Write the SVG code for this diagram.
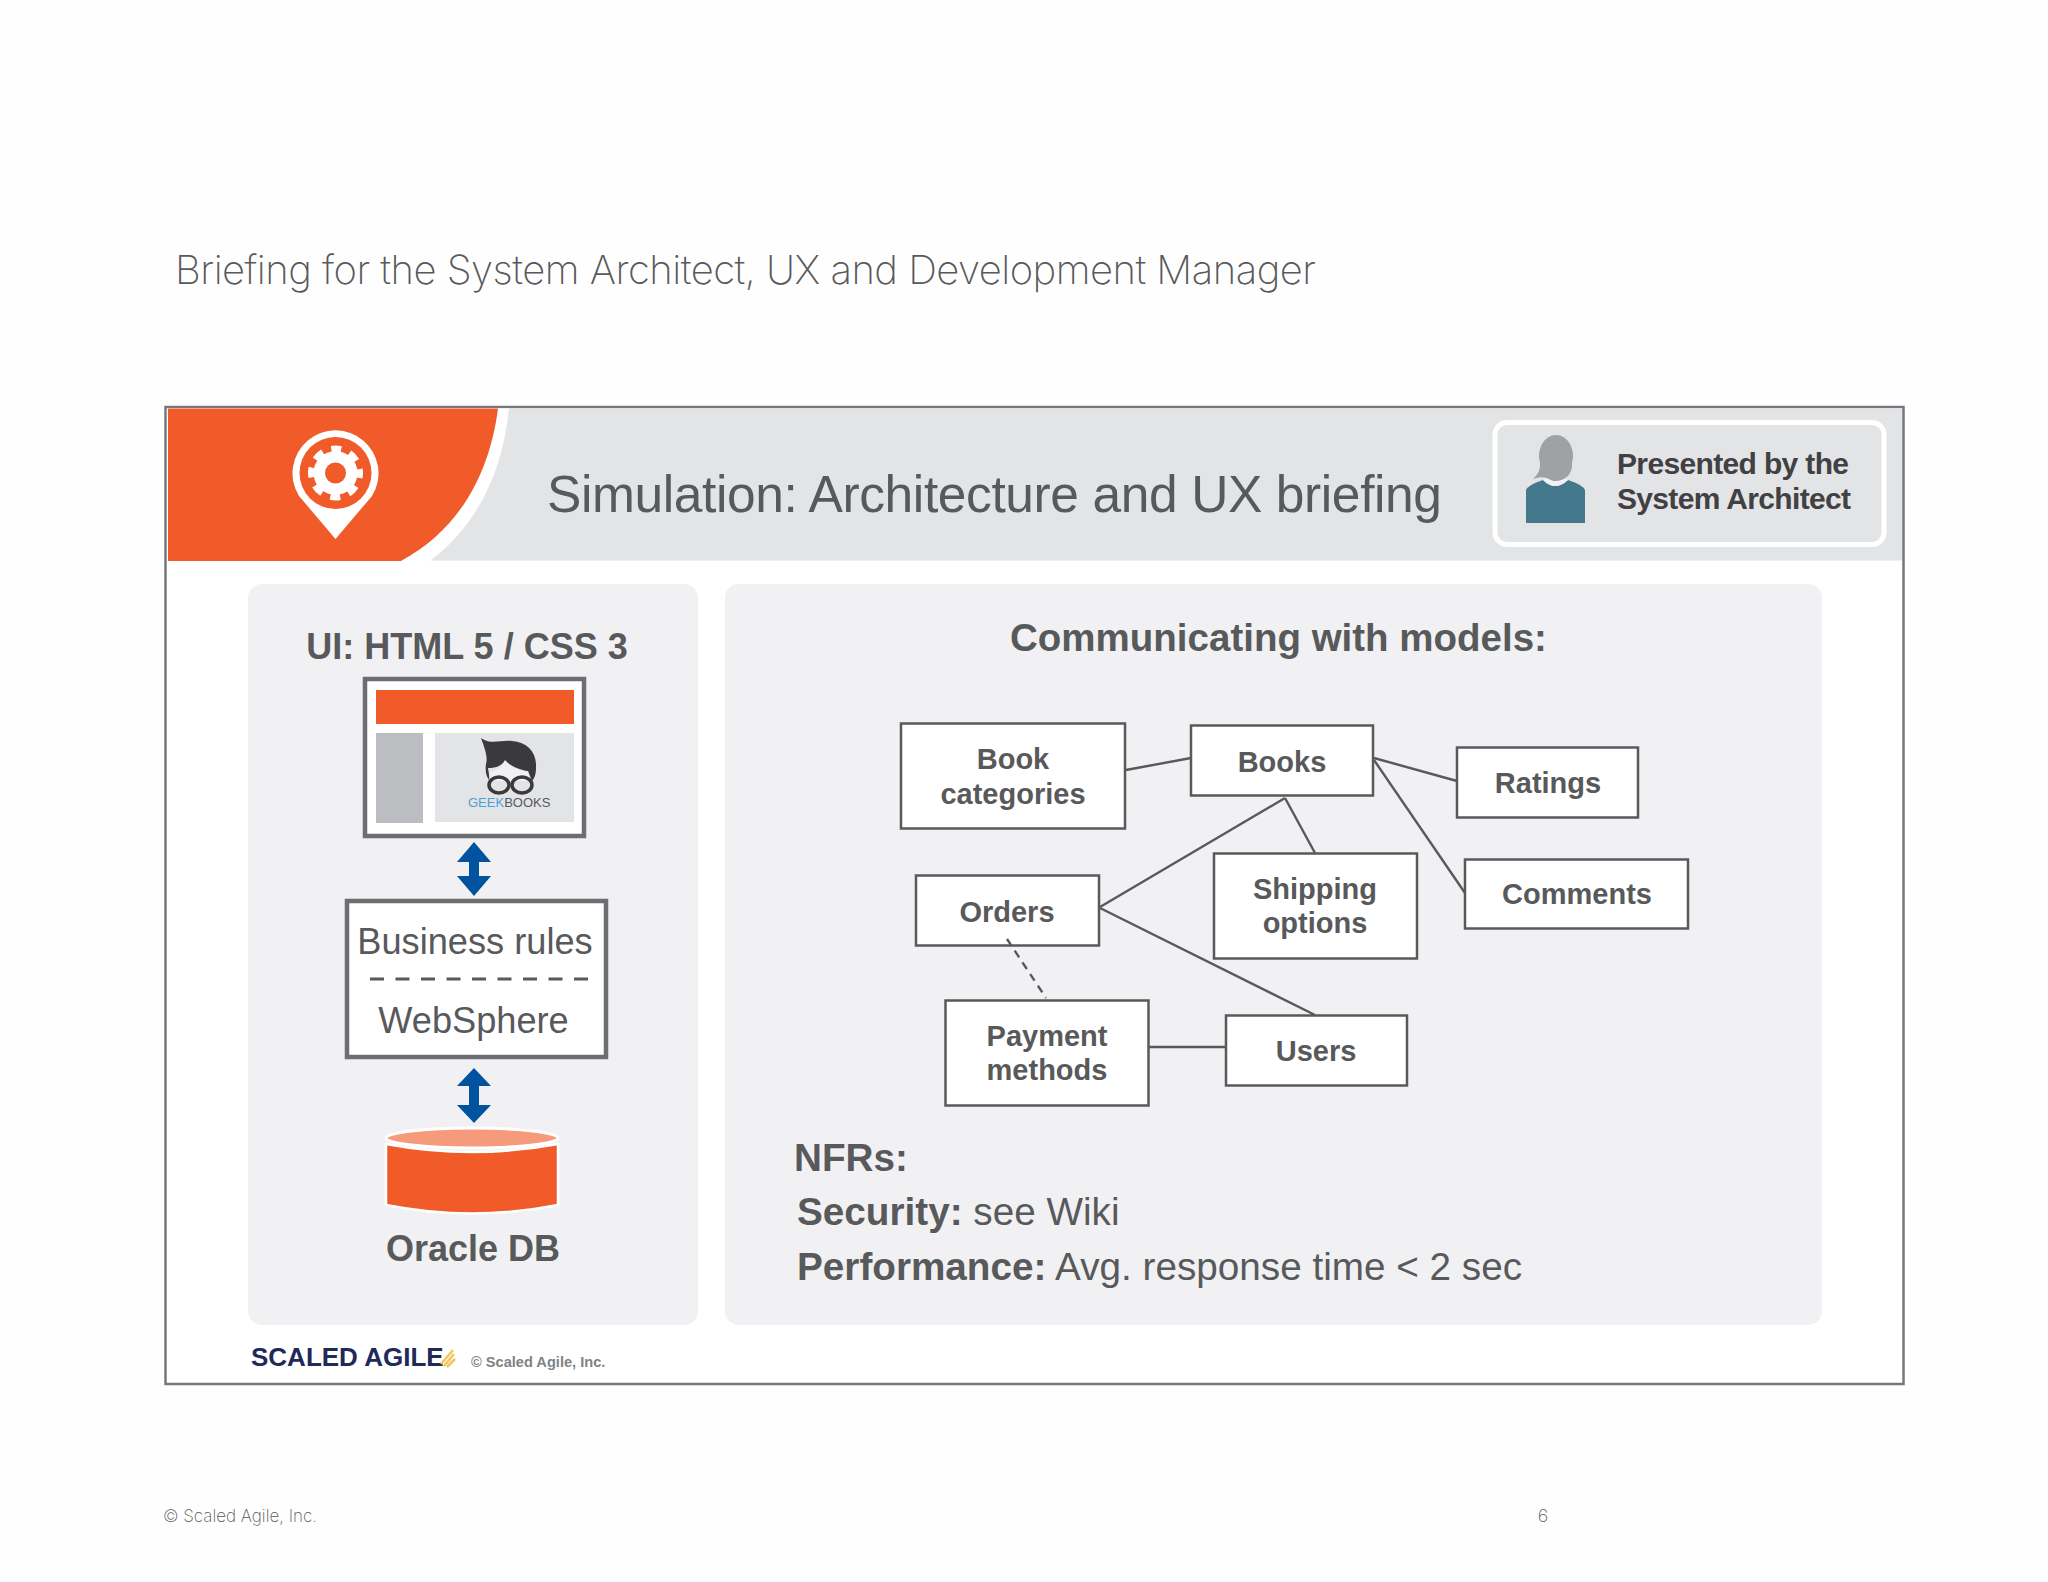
<svg xmlns="http://www.w3.org/2000/svg" width="2048" height="1582" viewBox="0 0 2048 1582">
<style>
text{font-family:"Liberation Sans",Arial,sans-serif;fill:#58595b}
.b{font-weight:700}
.m{text-anchor:middle}
.lbl{font-size:29px;font-weight:700;text-anchor:middle}
.box{fill:#fff;stroke:#58595b;stroke-width:2.5}
.c{stroke:#58595b;stroke-width:2.4;fill:none}
.panel{fill:#f1f1f3}
.or{fill:#f15a29}
.ar{fill:#00539f}
.nf{font-size:38.700px}
.thin{font-family:Inter,"Liberation Sans",sans-serif;font-weight:200}
</style>
<rect width="2048" height="1582" fill="#fefefe"/>
<text id="page-title" class="thin" x="175" y="284" font-size="40" textLength="1141">Briefing for the System Architect, UX and Development Manager</text>
<g id="slide">
<rect x="165.500" y="407" width="1738" height="977" fill="#fff" stroke="#77787b" stroke-width="2.500"/>
<rect x="168" y="408.500" width="1734" height="152" fill="#e3e4e6"/>
<path d="M168 408.500H509C503 470 478 525 430 561H168Z" fill="#fff"/>
<path class="or" d="M168 408.500H498C490 470 462 528 401 561H168Z"/>
</g>
<g id="pin-icon">
<path d="M335.500 539 L299 496 A43 43 0 1 1 372 496Z" fill="#fff"/>
<circle class="or" cx="335.500" cy="473" r="36"/>
<circle cx="335.500" cy="473" r="22" fill="#fff"/>
<circle cx="335.500" cy="473" r="24" fill="none" stroke="#fff" stroke-width="7" stroke-dasharray="10 8.850" stroke-dashoffset="5"/>
<circle class="or" cx="335.500" cy="473" r="10.500"/>
</g>
<text id="slide-title" class="m" x="994.500" y="512" font-size="51.500" textLength="895">Simulation: Architecture and UX briefing</text>
<g id="presenter">
<rect x="1495" y="422.500" width="389" height="122" rx="12" fill="#e3e4e6" stroke="#fff" stroke-width="5"/>
<path d="M1526 523V490Q1528 485 1543 480Q1555 492 1568 480Q1583 485 1585 490V523Z" fill="#44788c"/>
<path d="M1543 480Q1555 492 1568 480L1564 477H1546Z" fill="#f1f1f3"/>
<path d="M1533 479Q1541 472 1540 463A17 21 0 1 1 1572 463C1573 474 1565 481 1555 481C1549 481 1547 474 1533 479Z" fill="#a0a1a4"/>
<text class="b" x="1617" y="474" font-size="30" textLength="232" style="fill:#414042">Presented by the</text>
<text class="b" x="1617" y="509" font-size="30" textLength="234" style="fill:#414042">System Architect</text>
</g>
<g id="panel-left">
<rect class="panel" x="248" y="584" width="450" height="741" rx="14"/>
<text class="b m" x="467" y="659" font-size="36">UI: HTML 5 / CSS 3</text>
</g>
<g id="panel-right">
<rect class="panel" x="725" y="584" width="1097" height="741" rx="14"/>
<text class="b m" x="1278.500" y="651" font-size="38.500">Communicating with models:</text>
</g>
<g id="browser">
<rect x="365" y="679" width="219" height="157" fill="#fff" stroke="#6d6e71" stroke-width="4.500"/>
<rect class="or" x="376" y="690" width="198" height="34"/>
<rect x="376" y="733" width="47" height="90" fill="#bcbdc0"/>
<rect x="435" y="733" width="139" height="89" fill="#e3e4e6"/>
<path d="M481 738C490 745 500 740 512 741C528 742 537 753 536 768C536 775 534 779 532 781L528 771C520 770 510 766 505 760C502 766 496 768 488 768L490 781C486 777 485 771 486 764C488 757 485 749 481 738Z" fill="#3a3a3c"/>
<path d="M490 772C497 771 503 766 505 761C510 767 520 771 528 772L530 781H489Z" fill="#f1f1f3"/>
<g fill="none" stroke="#3a3a3c" stroke-width="3.500"><ellipse cx="499" cy="785" rx="10" ry="8"/><ellipse cx="522" cy="785" rx="10" ry="8"/></g>
<text x="468" y="807" font-size="13"><tspan style="fill:#4f9fd8">GEEK</tspan><tspan>BOOKS</tspan></text>
</g>
<g id="arrow-ui-rules"><path class="ar" d="M474 842L491 862H479V876H491L474 896L457 876H469V862H457Z"/></g>
<g id="business-rules">
<rect x="347" y="901" width="259" height="156" fill="#fff" stroke="#6d6e71" stroke-width="4.500"/>
<text class="m" x="475" y="954" font-size="36.200">Business rules</text>
<path d="M370 979H588" stroke="#58595b" stroke-width="3" stroke-dasharray="14 11.500" fill="none"/>
<text class="m" x="473.500" y="1033" font-size="36.200">WebSphere</text>
</g>
<g id="arrow-rules-db"><path class="ar" d="M474 1068L491 1086H479V1105H491L474 1123L457 1105H469V1086H457Z"/></g>
<g id="oracle-db">
<path class="or" d="M386 1144Q472 1160 558 1144V1205Q472 1222 386 1205Z" stroke="#fff" stroke-width="2.500"/>
<ellipse cx="472" cy="1138" rx="86" ry="10" fill="#f59a7b" stroke="#fff" stroke-width="3"/>
<text class="b m" x="473" y="1261" font-size="36">Oracle DB</text>
</g>
<g id="node-book-categories"><rect class="box" x="901" y="723.500" width="224" height="105"/><text class="lbl" x="1013" y="769">Book</text><text class="lbl" x="1013" y="804">categories</text></g>
<g id="node-books"><rect class="box" x="1191" y="725.500" width="182" height="70"/><text class="lbl" x="1282" y="772">Books</text></g>
<g id="node-ratings"><rect class="box" x="1457" y="747.500" width="181" height="70"/><text class="lbl" x="1548" y="793">Ratings</text></g>
<g id="node-comments"><rect class="box" x="1465" y="859.500" width="223" height="69"/><text class="lbl" x="1577" y="904">Comments</text></g>
<g id="node-shipping"><rect class="box" x="1214" y="853.500" width="203" height="105"/><text class="lbl" x="1315" y="899">Shipping</text><text class="lbl" x="1315" y="933">options</text></g>
<g id="node-orders"><rect class="box" x="916" y="875.500" width="183" height="70"/><text class="lbl" x="1007" y="922">Orders</text></g>
<g id="node-payment"><rect class="box" x="945.500" y="1000.500" width="203" height="105"/><text class="lbl" x="1047" y="1046">Payment</text><text class="lbl" x="1047" y="1080">methods</text></g>
<g id="node-users"><rect class="box" x="1226" y="1015.500" width="181" height="70"/><text class="lbl" x="1316" y="1061">Users</text></g>
<g id="connectors">
<path class="c" d="M1126 770L1191 758"/>
<path class="c" d="M1374 758L1457 781"/>
<path class="c" d="M1374 760L1465 893"/>
<path class="c" d="M1285 798L1100 907"/>
<path class="c" d="M1285 798L1315 853"/>
<path class="c" d="M1100 908L1315 1015"/>
<path class="c" d="M1007 939L1046 998" stroke-dasharray="8 6"/>
<path class="c" d="M1148 1047H1226"/>
</g>
<g id="nfrs">
<text class="b nf" x="794" y="1171">NFRs:</text>
<text class="nf" x="797" y="1225"><tspan class="b">Security:</tspan> see Wiki</text>
<text class="nf" x="797" y="1280"><tspan class="b">Performance:</tspan> Avg. response time &lt; 2 sec</text>
</g>
<g id="logo">
<text class="b" x="251" y="1366" font-size="26" style="fill:#1f2a5a">SCALED AGILE</text>
<path d="M441 1364L453 1350M444 1366L454 1354M447 1367L455 1359" stroke="#f3c65a" stroke-width="2.500" fill="none"/>
<text class="b" x="471" y="1367" font-size="14.600" style="fill:#808285">© Scaled Agile, Inc.</text>
</g>
<g id="footer">
<text class="thin" x="163" y="1522" font-size="17" textLength="154">© Scaled Agile, Inc.</text>
<text class="thin m" x="1543" y="1522" font-size="18">6</text>
</g>
</svg>
